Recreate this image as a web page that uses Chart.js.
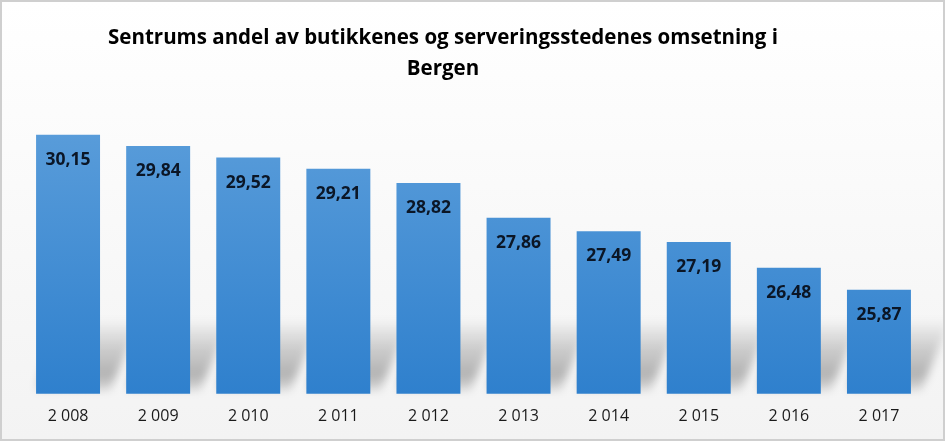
<!DOCTYPE html>
<html>
<head>
<meta charset="utf-8">
<script src="https://cdn.jsdelivr.net/npm/chart.js@4/dist/chart.umd.min.js"></script>
<style>
html,body{margin:0;padding:0;background:#fff;}
#wrap{position:relative;width:941px;height:437px;border:2px solid #cfcfcf;background:linear-gradient(#ffffff,#f3f3f3);}
canvas{display:block;}
</style>
</head>
<body>
<div id="wrap"><canvas id="c" width="941" height="437"></canvas></div>
<script>
const titleLines = ["Sentrums andel av butikkenes og serveringsstedenes omsetning i", "Bergen"];
const years = ["2 008","2 009","2 010","2 011","2 012","2 013","2 014","2 015","2 016","2 017"];
const shares = [30.15, 29.84, 29.52, 29.21, 28.82, 27.86, 27.49, 27.19, 26.48, 25.87];

const titlePlugin = {
  id: 'ttl',
  afterDraw(chart) {
    const ctx = chart.ctx;
    ctx.save();
    ctx.font = 'bold 20.5px "Open Sans", sans-serif';
    ctx.fillStyle = '#000000';
    ctx.textAlign = 'center';
    ctx.textBaseline = 'middle';
    ctx.fillText(titleLines[0], 441, 36);
    ctx.fillText(titleLines[1], 441, 67);
    ctx.restore();
  }
};

const labelPlugin = {
  id: 'vals',
  afterDatasetsDraw(chart) {
    const ctx = chart.ctx;
    const meta = chart.getDatasetMeta(0);
    ctx.save();
    ctx.font = 'bold 17.5px "Open Sans", sans-serif';
    ctx.fillStyle = '#0b1626';
    ctx.textAlign = 'center';
    ctx.textBaseline = 'middle';
    meta.data.forEach((bar, i) => {
      const s = shares[i].toFixed(2).replace('.', ',');
      ctx.fillText(s, bar.x, bar.y + 25);
    });
    ctx.restore();
  }
};

const shadowPlugin = {
  id: 'shadow',
  beforeDatasetsDraw(chart) {
    const ctx = chart.ctx;
    const meta = chart.getDatasetMeta(0);
    const bottom = chart.scales.y.bottom;
    ctx.save();
    meta.data.forEach((bar) => {
      const w = bar.width;
      const xL = bar.x - w / 2, xR = bar.x + w / 2;
      const h = 75;
      const g = ctx.createLinearGradient(0, bottom - h, 0, bottom);
      g.addColorStop(0, 'rgba(0,0,0,0)');
      g.addColorStop(0.35, 'rgba(0,0,0,0.15)');
      g.addColorStop(0.75, 'rgba(0,0,0,0.27)');
      g.addColorStop(1, 'rgba(0,0,0,0.06)');
      ctx.fillStyle = g;
      ctx.filter = 'blur(4px)';
      ctx.beginPath();
      ctx.moveTo(xL, bottom - 3);
      ctx.lineTo(xR + 10, bottom - 3);
      ctx.lineTo(xR + 40, bottom - h);
      ctx.lineTo(xL + 20, bottom - h);
      ctx.closePath();
      ctx.fill();
    });
    ctx.restore();
  }
};

new Chart(document.getElementById('c'), {
  type: 'bar',
  data: {
    labels: years,
    datasets: [{
      data: shares,
      backgroundColor: (c) => {
        const a = c.chart.chartArea;
        if (!a) return '#4a90d6';
        const g = c.chart.ctx.createLinearGradient(0, a.top, 0, a.bottom);
        g.addColorStop(0, '#5d9fdb');
        g.addColorStop(1, '#2f80cd');
        return g;
      },
      borderWidth: 0,
      categoryPercentage: 0.71,
      barPercentage: 1.0
    }]
  },
  plugins: [shadowPlugin, labelPlugin, titlePlugin],
  options: {
    responsive: false,
    animation: false,
    layout: { padding: { left: 21, right: 19, top: 102, bottom: 8 } },
    plugins: {
      legend: { display: false },
      tooltip: { enabled: false },
      title: { display: false }
    },
    scales: {
      x: {
        grid: { display: false },
        border: { display: false },
        ticks: { color: '#1a1a1a', font: { family: '"Open Sans", sans-serif', size: 16 }, padding: 5 }
      },
      y: {
        display: false,
        min: 23,
        max: 31
      }
    }
  }
});
</script>
</body>
</html>
